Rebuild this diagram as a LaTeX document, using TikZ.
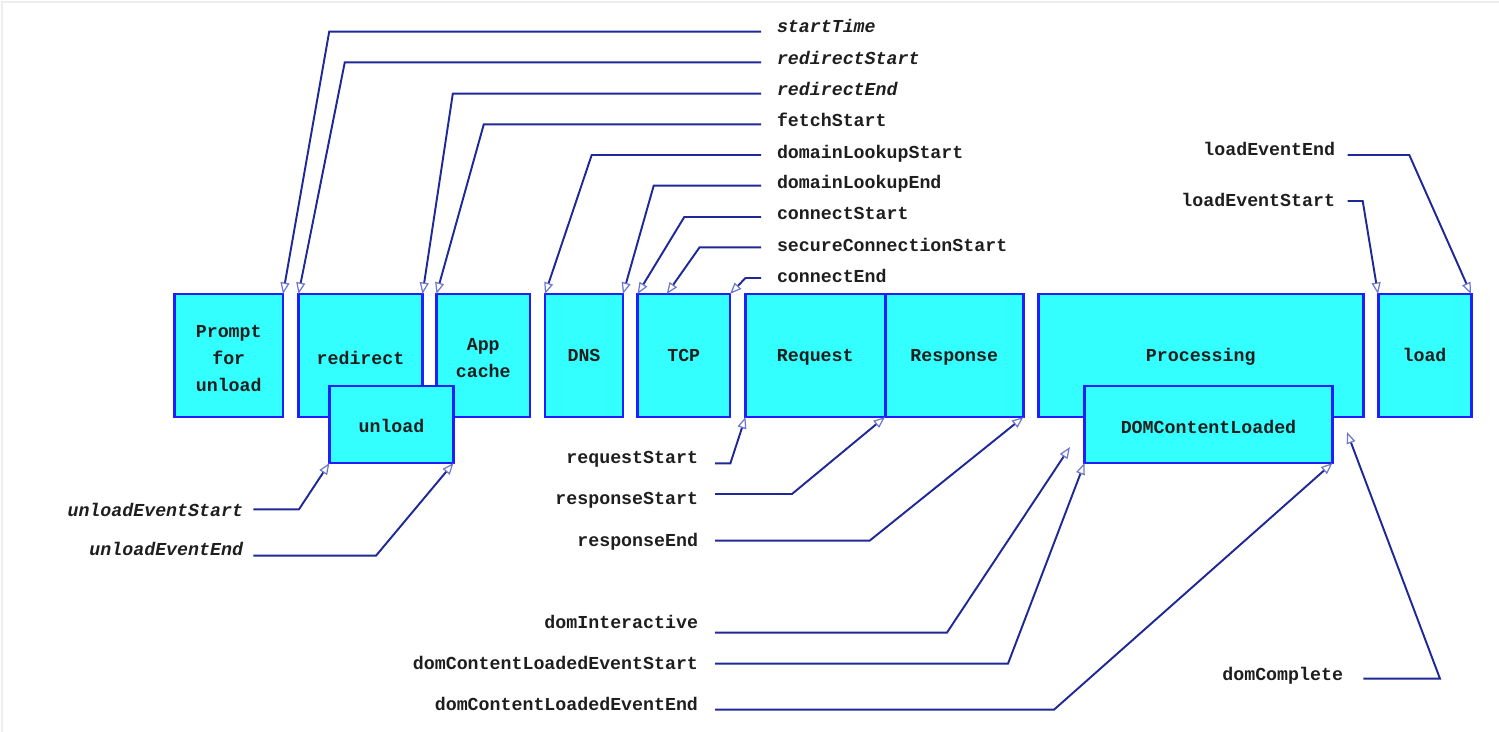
\documentclass[tikz,border=0pt]{standalone}
\usepackage{fontspec}
\setmonofont{Liberation Mono}
\usetikzlibrary{fit,arrows.meta,calc}
\definecolor{boxfill}{RGB}{51,255,255}
\definecolor{boxborder}{RGB}{30,30,255}
\definecolor{conncolor}{RGB}{30,40,150}
\definecolor{tipc}{RGB}{110,120,205}
\definecolor{txt}{RGB}{30,30,30}
\definecolor{frame}{RGB}{238,238,238}
\newcommand{\lblfont}{\fontsize{10.4pt}{15.3pt}\selectfont\ttfamily\bfseries}
\tikzset{
  box/.style={draw=boxborder, fill=boxfill, line width=1.7pt, inner sep=0pt, outer sep=0pt},
  btxt/.style={inner sep=0pt, outer sep=0pt, text height=8.3pt, text depth=2.1pt, text=txt, font=\lblfont},
  btxtm/.style={inner sep=0pt, outer sep=0pt, align=center, text=txt, font=\lblfont},
  lbl/.style={inner sep=0pt, outer sep=0pt, text height=8.3pt, text depth=2.1pt, text=txt, font=\lblfont},
  conn/.style={draw=conncolor, line width=1.1pt,
    -{Triangle[open, length=0.23cm, width=0.18cm, line width=0.7pt, color=tipc]}}
}
\begin{document}
\begin{tikzpicture}[x=0.02cm,y=-0.02cm]
\useasboundingbox (0,0) rectangle (1499,732);
\draw[frame, line width=1pt] (1.7,732) -- (1.7,1.7) -- (1499,1.7);

% boxes
\node[box, fit={(174.5,294) (283,417)}] (prompt) {};
\node[box, fit={(298.5,294) (422.5,417)}] (redirect) {};
\node[box, fit={(436.5,294) (530,417)}] (appcache) {};
\node[btxt] at ($(redirect.center)+(0,3.5)$) {redirect};
\node[btxtm] at ($(appcache.center)+(0,3)$) {App\\cache};
\node[btxtm] at ($(prompt.center)+(0,3)$) {Prompt\\for\\unload};
\node[box, fit={(329.5,386) (453.5,463)}] (unload) {};
\node[btxt] at ($(unload.center)+(0,3)$) {unload};
\node[box, fit={(545,294) (623,417)}] (dns) {};
\node[btxt] at ($(dns.center)+(0,0.5)$) {DNS};
\node[box, fit={(637.5,294) (730,417)}] (tcp) {};
\node[btxt] at ($(tcp.center)+(0,0.5)$) {TCP};
\node[box, fit={(745.5,294) (885,417)}] (request) {};
\node[btxt] at ($(request.center)+(0,0.5)$) {Request};
\node[box, fit={(885,294) (1023.5,417)}] (response) {};
\node[btxt] at ($(response.center)+(0,0.5)$) {Response};
\node[box, fit={(1038.5,294) (1363,417)}] (processing) {};
\node[btxt] at ($(processing.center)+(0,1)$) {Processing};
\node[box, fit={(1084.5,386) (1332.5,463)}] (dcl) {};
\node[btxt] at ($(dcl.center)+(0,3.5)$) {DOMContentLoaded};
\node[box, fit={(1378,294) (1471,417)}] (load) {};
\node[btxt] at ($(load.center)+(0,0.5)$) {load};

% top labels
\node[lbl, anchor=west] (l1) at (777,26.7) {\itshape startTime};
\node[lbl, anchor=west] (l2) at (777,59.3) {\itshape redirectStart};
\node[lbl, anchor=west] (l3) at (777,90) {\itshape redirectEnd};
\node[lbl, anchor=west] (l4) at (777,120.7) {fetchStart};
\node[lbl, anchor=west] (l5) at (777,152.7) {domainLookupStart};
\node[lbl, anchor=west] (l6) at (777,183.3) {domainLookupEnd};
\node[lbl, anchor=west] (l7) at (777,214) {connectStart};
\node[lbl, anchor=west] (l8) at (777,246) {secureConnectionStart};
\node[lbl, anchor=west] (l9) at (777,277.3) {connectEnd};

\coordinate (s1) at (761,31.7);   \coordinate (c1) at (329.2,31.7);
\coordinate (s2) at (761,62.3);   \coordinate (c2) at (344.8,62.3);
\coordinate (s3) at (761,93.7);   \coordinate (c3) at (452.8,93.7);
\coordinate (s4) at (761,124.3);  \coordinate (c4) at (483.8,124.3);
\coordinate (s5) at (761,155);    \coordinate (c5) at (591.7,155);
\coordinate (s6) at (761,185.7);  \coordinate (c6) at (653.7,185.7);
\coordinate (s7) at (761,217);    \coordinate (c7) at (684.3,217);
\coordinate (s8) at (761,247.3);  \coordinate (c8) at (699.6,247.3);
\coordinate (s9) at (761,278);    \coordinate (c9) at (745.5,278);
\coordinate (t8) at ($(tcp.north west)!0.316!(tcp.north east)$);

\draw[conn] (s1) -- (c1) -- (prompt.north east);
\draw[conn] (s2) -- (c2) -- (redirect.north west);
\draw[conn] (s3) -- (c3) -- (redirect.north east);
\draw[conn] (s4) -- (c4) -- (appcache.north west);
\draw[conn] (s5) -- (c5) -- (dns.north west);
\draw[conn] (s6) -- (c6) -- (dns.north east);
\draw[conn] (s7) -- (c7) -- (tcp.north west);
\draw[conn] (s8) -- (c8) -- (t8);
\draw[conn] (s9) -- (c9) -- (tcp.north east);

% unload labels
\node[lbl, anchor=east] (u1) at (243,510.7) {\itshape unloadEventStart};
\node[lbl, anchor=east] (u2) at (243,550) {\itshape unloadEventEnd};
\coordinate (us1) at (253.3,509.3); \coordinate (uc1) at (299,509.3);
\coordinate (us2) at (253.3,555.7); \coordinate (uc2) at (376,555.7);
\draw[conn] (us1) -- (uc1) -- (unload.south west);
\draw[conn] (us2) -- (uc2) -- (unload.south east);

% middle bottom labels
\node[lbl, anchor=east] (m1) at (698,458.5) {requestStart};
\node[lbl, anchor=east] (m2) at (698,499) {responseStart};
\node[lbl, anchor=east] (m3) at (698,541) {responseEnd};
\node[lbl, anchor=east] (m4) at (698,623.5) {domInteractive};
\node[lbl, anchor=east] (m5) at (698,664.5) {domContentLoadedEventStart};
\node[lbl, anchor=east] (m6) at (698,705) {domContentLoadedEventEnd};
\coordinate (ms1) at (715,463.3); \coordinate (mc1) at (730.4,463.3);
\coordinate (ms2) at (715,494);   \coordinate (mc2) at (792,494);
\coordinate (ms3) at (715,540.7); \coordinate (mc3) at (869.6,540.7);
\coordinate (ms4) at (715,632.7); \coordinate (mc4) at (946.9,632.7);
\coordinate (ms5) at (715,663.7); \coordinate (mc5) at (1008,663.7);
\coordinate (ms6) at (715,709.7); \coordinate (mc6) at (1054,709.7);
\coordinate (t4) at (1070,447);
\draw[conn] (ms1) -- (mc1) -- (request.south west);
\draw[conn] (ms2) -- (mc2) -- (response.south west);
\draw[conn] (ms3) -- (mc3) -- (response.south east);
\draw[conn] (ms4) -- (mc4) -- (t4);
\draw[conn] (ms5) -- (mc5) -- (dcl.south west);
\draw[conn] (ms6) -- (mc6) -- (dcl.south east);

% right labels
\node[lbl, anchor=east] (r1) at (1335,150) {loadEventEnd};
\node[lbl, anchor=east] (r2) at (1335,201) {loadEventStart};
\node[lbl, anchor=east] (r3) at (1343,675) {domComplete};
\coordinate (rs1) at (1347.7,155);   \coordinate (rc1) at (1409.3,155);
\coordinate (rs2) at (1347.7,201);   \coordinate (rc2) at (1362.7,201);
\coordinate (rs3) at (1363.3,678.7); \coordinate (rc3) at (1440,678.7);
\coordinate (t3) at (1347,432);
\draw[conn] (rs1) -- (rc1) -- (load.north east);
\draw[conn] (rs2) -- (rc2) -- (load.north west);
\draw[conn] (rs3) -- (rc3) -- (t3);
\end{tikzpicture}
\end{document}
